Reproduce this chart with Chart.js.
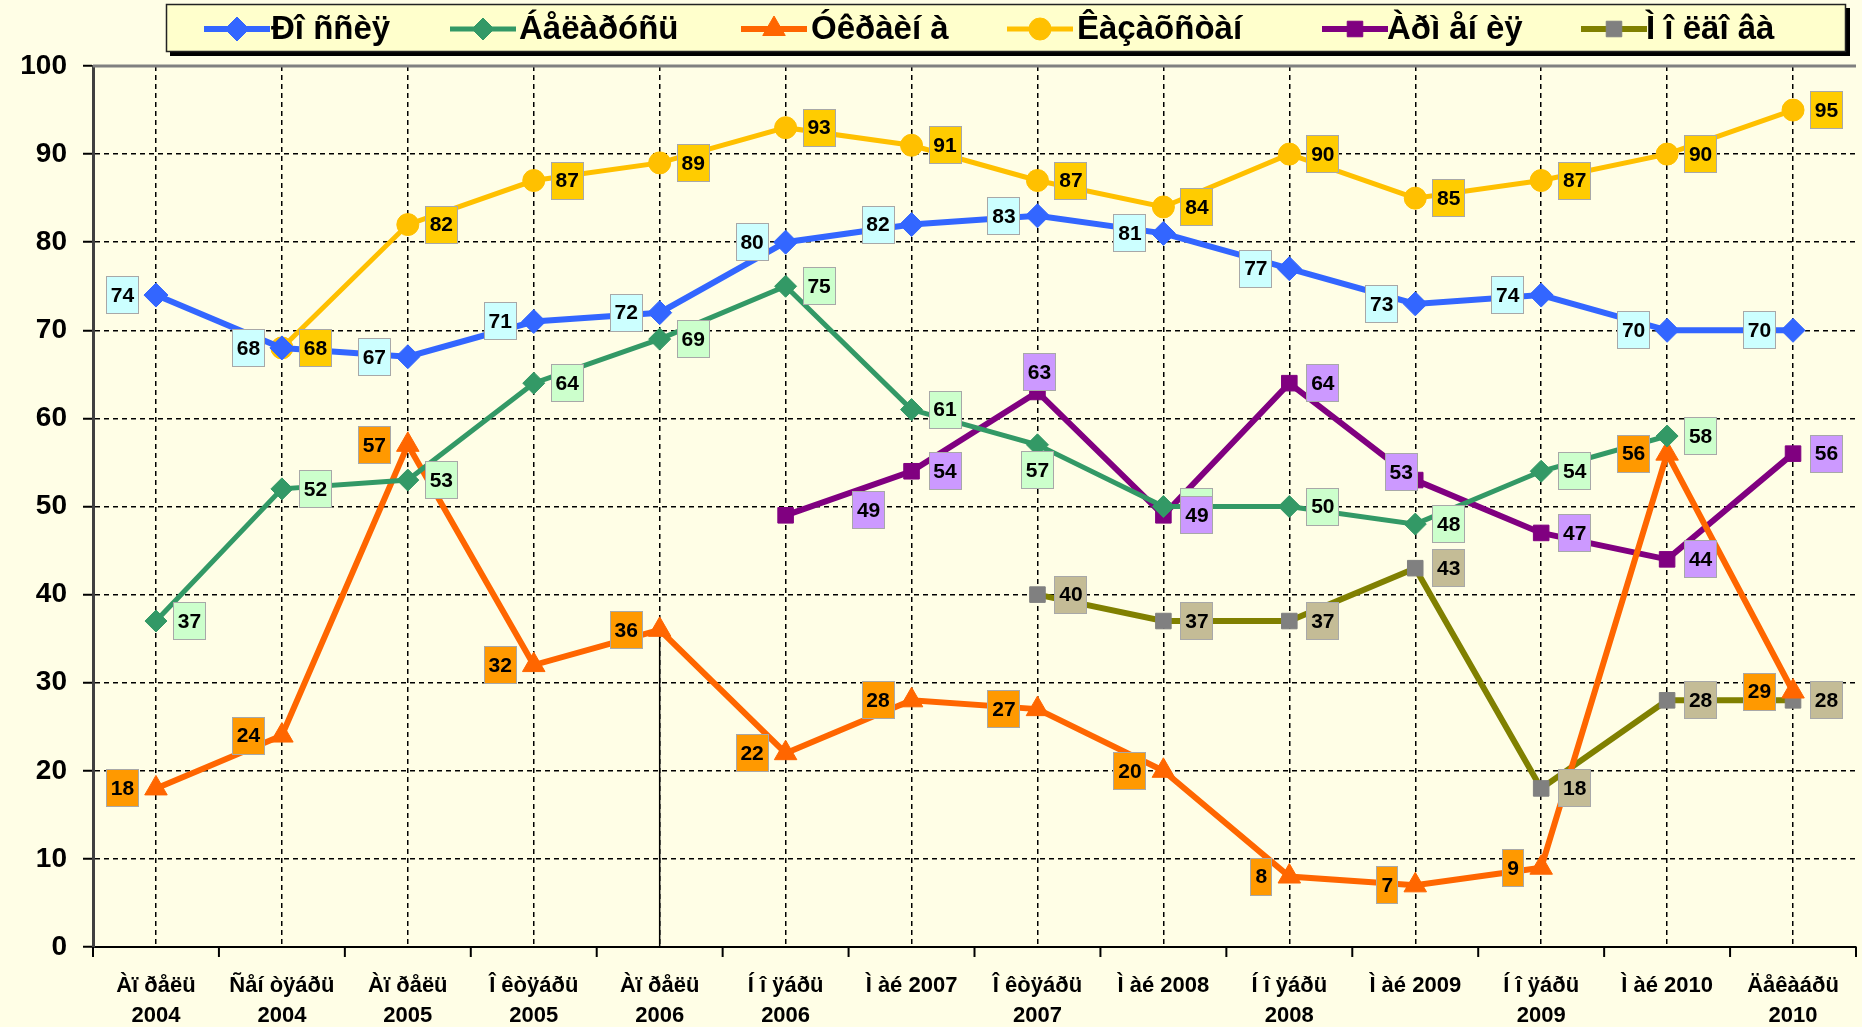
<!DOCTYPE html>
<html>
<head>
<meta charset="utf-8">
<script src="https://cdn.jsdelivr.net/npm/chart.js@4.4.1/dist/chart.umd.min.js"></script>
<style>
  html, body { margin: 0; padding: 0; background: #FFFEE6; overflow: hidden; }
  canvas { display: block; }
</style>
</head>
<body>
<canvas id="chart" width="1870" height="1027"></canvas>
<script>
// Survey waves (two-line axis labels)
const categories = [
  ["Àï ðåëü", "2004"], ["Ñåí òÿáðü", "2004"], ["Àï ðåëü", "2005"], ["Î êòÿáðü", "2005"],
  ["Àï ðåëü", "2006"], ["Í î ÿáðü", "2006"], ["Ì àé 2007"], ["Î êòÿáðü", "2007"],
  ["Ì àé 2008"], ["Í î ÿáðü", "2008"], ["Ì àé 2009"], ["Í î ÿáðü", "2009"],
  ["Ì àé 2010"], ["Äåêàáðü", "2010"]
];

const seriesNames = ["Ðî ññèÿ", "Áåëàðóñü", "Óêðàèí à", "Êàçàõñòàí", "Àðì åí èÿ", "Ì î ëäî âà"];

const russia     = [74, 68, 67, 71, 72, 80, 82, 83, 81, 77, 73, 74, 70, 70];
const belarus    = [37, 52, 53, 64, 69, 75, 61, 57, 50, 50, 48, 54, 58, null];
const ukraine    = [18, 24, 57, 32, 36, 22, 28, 27, 20, 8, 7, 9, 56, 29];
const kazakhstan = [null, 68, 82, 87, 89, 93, 91, 87, 84, 90, 85, 87, 90, 95];
const armenia    = [null, null, null, null, null, 49, 54, 63, 49, 64, 53, 47, 44, 56];
const moldova    = [null, null, null, null, null, null, null, 40, 37, 37, 43, 18, 28, 28];

const yMin = 0, yMax = 100, yStep = 10;

// Styling per series
const lineColors  = ["#3366FF", "#339966", "#FF6600", "#FFC000", "#800080", "#808000"];
const pointColors = ["#3366FF", "#339966", "#FF6600", "#FFC000", "#800080", "#808080"];
const pointShapes = ["rectRot", "rectRot", "triangle", "circle", "rect", "rect"];
const pointRadii  = [12, 11, 13, 11, 11, 11];
const lineWidths  = [6, 5, 6, 5, 6, 6];
const boxFills    = ["#CCFFFF", "#CCFFCC", "#FF9900", "#FFCC00", "#CC99FF", "#C4BC96"];
const boxSides    = ["left", "right", "left", "right", "right", "right"];
// value boxes that sit somewhere other than beside their point: [series, index, dx, dy]
const boxMoves = [[1, 7, 0, 25], [4, 5, 83, -5], [4, 7, 2, -20], [4, 10, -14, -8]];

// legend slots: marker centre and text start
const legendMarkerX = [237, 483, 774, 1040, 1355, 1614];
const legendTextX   = [271, 519, 811, 1077, 1387, 1646];

const dropIndex = 4; // thin stem under the Ukraine point of April 2006

const seriesData = [russia, belarus, ukraine, kazakhstan, armenia, moldova];

const FONT = '"Liberation Sans", Arial, sans-serif';

const datasets = seriesData.map((d, i) => ({
  label: seriesNames[i],
  data: d,
  borderColor: lineColors[i],
  backgroundColor: pointColors[i],
  borderWidth: lineWidths[i],
  pointStyle: pointShapes[i],
  pointRadius: pointRadii[i],
  pointBackgroundColor: pointColors[i],
  pointBorderColor: pointColors[i],
  pointBorderWidth: 1,
  tension: 0,
  spanGaps: false
}));

const backgroundPlugin = {
  id: 'paper',
  beforeDraw(chart) {
    const ctx = chart.ctx;
    ctx.save();
    ctx.fillStyle = '#FFFEE6';
    ctx.fillRect(0, 0, chart.width, chart.height);
    ctx.restore();
  }
};

const stemPlugin = {
  id: 'stem',
  beforeDatasetsDraw(chart) {
    const p = chart.getDatasetMeta(2).data[dropIndex];
    if (!p) return;
    const ctx = chart.ctx;
    ctx.save();
    ctx.strokeStyle = '#000';
    ctx.lineWidth = 1.5;
    ctx.beginPath();
    ctx.moveTo(p.x, p.y);
    ctx.lineTo(p.x, chart.chartArea.bottom);
    ctx.stroke();
    ctx.restore();
  }
};

const framePlugin = {
  id: 'frame',
  afterDraw(chart) {
    const ctx = chart.ctx;
    const a = chart.chartArea;
    const xs = chart.scales.x;
    ctx.save();
    // top edge of plot
    ctx.strokeStyle = '#808080';
    ctx.lineWidth = 3;
    ctx.beginPath();
    ctx.moveTo(a.left, a.top);
    ctx.lineTo(a.right, a.top);
    ctx.stroke();
    // category boundary ticks under the x axis
    const step = xs.getPixelForValue(1) - xs.getPixelForValue(0);
    ctx.strokeStyle = '#000';
    ctx.lineWidth = 2;
    for (let i = 0; i <= categories.length; i++) {
      const x = xs.getPixelForValue(0) + (i - 0.5) * step;
      ctx.beginPath();
      ctx.moveTo(x, a.bottom);
      ctx.lineTo(x, a.bottom + 10);
      ctx.stroke();
    }
    ctx.restore();
  }
};

const valueBoxPlugin = {
  id: 'valueBoxes',
  afterDatasetsDraw(chart) {
    const ctx = chart.ctx;
    ctx.save();
    ctx.font = 'bold 21px ' + FONT;
    ctx.textAlign = 'center';
    ctx.textBaseline = 'middle';
    const h = 38, gap = 17;
    chart.data.datasets.forEach((ds, di) => {
      const meta = chart.getDatasetMeta(di);
      meta.data.forEach((pt, i) => {
        const v = ds.data[i];
        if (v === null || v === undefined) return;
        const txt = String(v);
        const w = Math.round(ctx.measureText(txt).width + 10);
        let cx, cy = pt.y;
        const mv = boxMoves.find(m => m[0] === di && m[1] === i);
        if (mv) {
          cx = pt.x + mv[2];
          cy = pt.y + mv[3];
        } else if (boxSides[di] === 'left') {
          cx = pt.x - gap - w / 2;
        } else {
          cx = pt.x + gap + w / 2;
        }
        const x0 = Math.round(cx - w / 2), y0 = Math.round(cy - h / 2);
        ctx.fillStyle = boxFills[di];
        ctx.fillRect(x0, y0, w, h);
        ctx.strokeStyle = '#A8A8A8';
        ctx.lineWidth = 1;
        ctx.strokeRect(x0 + 0.5, y0 + 0.5, w - 1, h - 1);
        ctx.fillStyle = '#000';
        ctx.fillText(txt, cx, cy + 1);
      });
    });
    ctx.restore();
  }
};

const legendPlugin = {
  id: 'legendBox',
  afterDraw(chart) {
    const ctx = chart.ctx;
    const bx = 166, by = 4, bw = 1680, bh = 48;
    ctx.save();
    ctx.fillStyle = '#000';
    ctx.fillRect(bx + 4, by + 4, bw, bh);
    ctx.fillStyle = '#FFFFCC';
    ctx.fillRect(bx, by, bw, bh);
    ctx.strokeStyle = '#222';
    ctx.lineWidth = 1.5;
    ctx.strokeRect(bx + 0.5, by + 0.5, bw - 1, bh - 1);
    const cy = by + bh / 2 + 1;
    chart.data.datasets.forEach((ds, i) => {
      const mx = legendMarkerX[i];
      ctx.strokeStyle = ds.borderColor;
      ctx.lineWidth = ds.borderWidth;
      ctx.beginPath();
      ctx.moveTo(mx - 33, cy);
      ctx.lineTo(mx + 33, cy);
      ctx.stroke();
      ctx.fillStyle = ds.pointBackgroundColor;
      ctx.strokeStyle = ds.pointBorderColor;
      ctx.lineWidth = 1;
      Chart.helpers.drawPoint(ctx, {
        pointStyle: ds.pointStyle, radius: ds.pointRadius, rotation: 0, borderWidth: 1
      }, mx, cy);
      ctx.fillStyle = '#000';
      ctx.font = 'bold 33px ' + FONT;
      ctx.textAlign = 'left';
      ctx.textBaseline = 'middle';
      ctx.fillText(ds.label, legendTextX[i], cy + 1);
    });
    ctx.restore();
  }
};

new Chart(document.getElementById('chart'), {
  type: 'line',
  data: { labels: categories, datasets: datasets },
  options: {
    responsive: false,
    animation: false,
    events: [],
    layout: { padding: { top: 66, left: 0, right: 2, bottom: 0 } },
    plugins: { legend: { display: false }, tooltip: { enabled: false } },
    scales: {
      x: {
        type: 'category',
        offset: true,
        grid: {
          offset: false,
          drawTicks: false,
          color: '#000',
          lineWidth: 1.5
        },
        border: { display: true, color: '#000', width: 2, dash: [5, 4] },
        ticks: {
          color: '#000',
          padding: 24,
          maxRotation: 0,
          autoSkip: false,
          font: { family: FONT, size: 22, weight: 'bold', lineHeight: 1.36 }
        },
        afterFit(scale) { scale.height = 80; }
      },
      y: {
        min: yMin,
        max: yMax,
        grid: {
          color: '#000',
          lineWidth: 1.5,
          tickLength: 10,
          tickColor: '#000',
          tickWidth: 2,
          tickBorderDash: []
        },
        border: { display: true, color: '#404040', width: 3, dash: [5, 4] },
        ticks: {
          stepSize: yStep,
          color: '#000',
          padding: 16,
          font: { family: FONT, size: 28, weight: 'bold' }
        },
        afterFit(scale) { scale.width = 93; }
      }
    }
  },
  plugins: [backgroundPlugin, stemPlugin, valueBoxPlugin, framePlugin, legendPlugin]
});
</script>
</body>
</html>
